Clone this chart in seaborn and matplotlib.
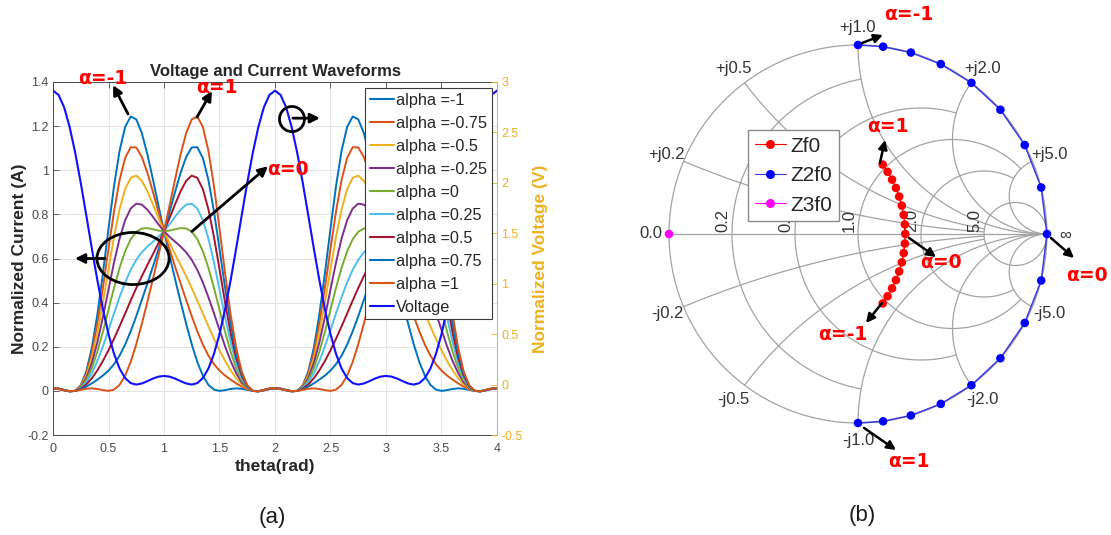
import numpy as np
import pandas as pd
import matplotlib
matplotlib.use("Agg")
import matplotlib.pyplot as plt
from matplotlib.lines import Line2D
from matplotlib.patches import Ellipse
import seaborn as sns

sns.set_theme(style="white")
plt.rcParams["font.family"] = ["Liberation Sans", "DejaVu Sans"]

# ---------------------------------------------------------------------------
# (a) waveforms, one period sampled every 0.05 rad-units (theta = 0 ... 1.95);
#     the waveform repeats with period 2 over the 0..4 window
# ---------------------------------------------------------------------------
theta_step = 0.05

i_m100 = [0.0120, 0.0110, 0.0045, -0.0026, 0.0000, 0.0256, 0.0879, 0.1952, 0.3473, 0.5339,
          0.7360, 0.9291, 1.0887, 1.1966, 1.2435, 1.2308, 1.1686, 1.0728, 0.9590, 0.8401,
          0.7240, 0.6129, 0.5062, 0.4028, 0.3034, 0.2112, 0.1313, 0.0690, 0.0273, 0.0058,
          0.0000, 0.0033, 0.0087, 0.0113, 0.0093, 0.0044, 0.0000, -0.0010, 0.0024, 0.0080]
i_m075 = [0.0120, 0.0106, 0.0042, -0.0024, 0.0000, 0.0230, 0.0781, 0.1722, 0.3050, 0.4676,
          0.6440, 0.8136, 0.9560, 1.0557, 1.1045, 1.1034, 1.0605, 0.9890, 0.9024, 0.8117,
          0.7240, 0.6413, 0.5628, 0.4866, 0.4115, 0.3386, 0.2703, 0.2099, 0.1600, 0.1212,
          0.0920, 0.0696, 0.0510, 0.0342, 0.0191, 0.0070, 0.0000, -0.0012, 0.0026, 0.0084]
i_m050 = [0.0120, 0.0102, 0.0039, -0.0022, 0.0000, 0.0203, 0.0683, 0.1492, 0.2627, 0.4013,
          0.5520, 0.6982, 0.8234, 0.9147, 0.9655, 0.9759, 0.9523, 0.9053, 0.8458, 0.7833,
          0.7240, 0.6697, 0.6194, 0.5703, 0.5197, 0.4661, 0.4093, 0.3509, 0.2926, 0.2366,
          0.1840, 0.1360, 0.0934, 0.0572, 0.0289, 0.0097, 0.0000, -0.0014, 0.0029, 0.0088]
i_m025 = [0.0120, 0.0099, 0.0037, -0.0020, 0.0000, 0.0177, 0.0584, 0.1262, 0.2203, 0.3349,
          0.4600, 0.5828, 0.6907, 0.7738, 0.8264, 0.8485, 0.8442, 0.8215, 0.7892, 0.7549,
          0.7240, 0.6981, 0.6760, 0.6541, 0.6278, 0.5935, 0.5484, 0.4918, 0.4253, 0.3520,
          0.2760, 0.2023, 0.1357, 0.0802, 0.0388, 0.0124, 0.0000, -0.0016, 0.0031, 0.0091]
i_000 = [0.0120, 0.0095, 0.0034, -0.0018, 0.0000, 0.0150, 0.0486, 0.1032, 0.1780, 0.2686,
         0.3680, 0.4674, 0.5580, 0.6328, 0.6874, 0.7210, 0.7360, 0.7378, 0.7326, 0.7265,
         0.7240, 0.7265, 0.7326, 0.7378, 0.7360, 0.7210, 0.6874, 0.6328, 0.5580, 0.4674,
         0.3680, 0.2686, 0.1780, 0.1032, 0.0486, 0.0150, 0.0000, -0.0018, 0.0034, 0.0095]
i_p025 = [0.0120, 0.0091, 0.0031, -0.0016, 0.0000, 0.0124, 0.0388, 0.0802, 0.1357, 0.2023,
          0.2760, 0.3520, 0.4253, 0.4918, 0.5484, 0.5935, 0.6278, 0.6541, 0.6760, 0.6981,
          0.7240, 0.7549, 0.7892, 0.8215, 0.8442, 0.8485, 0.8264, 0.7738, 0.6907, 0.5828,
          0.4600, 0.3349, 0.2203, 0.1262, 0.0584, 0.0177, 0.0000, -0.0020, 0.0037, 0.0099]
i_p050 = [0.0120, 0.0088, 0.0029, -0.0014, 0.0000, 0.0097, 0.0289, 0.0572, 0.0934, 0.1360,
          0.1840, 0.2366, 0.2926, 0.3509, 0.4093, 0.4661, 0.5197, 0.5703, 0.6194, 0.6697,
          0.7240, 0.7833, 0.8458, 0.9053, 0.9523, 0.9759, 0.9655, 0.9147, 0.8234, 0.6982,
          0.5520, 0.4013, 0.2627, 0.1492, 0.0683, 0.0203, 0.0000, -0.0022, 0.0039, 0.0102]
i_p075 = [0.0120, 0.0084, 0.0026, -0.0012, 0.0000, 0.0070, 0.0191, 0.0342, 0.0510, 0.0696,
          0.0920, 0.1212, 0.1600, 0.2099, 0.2703, 0.3386, 0.4115, 0.4866, 0.5628, 0.6413,
          0.7240, 0.8117, 0.9024, 0.9890, 1.0605, 1.1034, 1.1045, 1.0557, 0.9560, 0.8136,
          0.6440, 0.4676, 0.3050, 0.1722, 0.0781, 0.0230, 0.0000, -0.0024, 0.0042, 0.0106]
i_p100 = [0.0120, 0.0080, 0.0024, -0.0010, 0.0000, 0.0044, 0.0093, 0.0113, 0.0087, 0.0033,
          0.0000, 0.0058, 0.0273, 0.0690, 0.1313, 0.2112, 0.3034, 0.4028, 0.5062, 0.6129,
          0.7240, 0.8401, 0.9590, 1.0728, 1.1686, 1.2308, 1.2435, 1.1966, 1.0887, 0.9291,
          0.7360, 0.5339, 0.3473, 0.1952, 0.0879, 0.0256, 0.0000, -0.0026, 0.0045, 0.0110]
voltage = [2.9142, 2.8724, 2.7496, 2.5540, 2.2986, 2.0000, 1.6768, 1.3481, 1.0325, 0.7456,
           0.5000, 0.3032, 0.1585, 0.0641, 0.0142, 0.0000, 0.0104, 0.0338, 0.0594, 0.0788,
           0.0858, 0.0788, 0.0594, 0.0338, 0.0104, 0.0000, 0.0142, 0.0641, 0.1585, 0.3032,
           0.5000, 0.7456, 1.0325, 1.3481, 1.6768, 2.0000, 2.2986, 2.5540, 2.7496, 2.8724]

curve_labels = ["alpha =-1", "alpha =-0.75", "alpha =-0.5", "alpha =-0.25", "alpha =0",
                "alpha =0.25", "alpha =0.5", "alpha =0.75", "alpha =1"]
curve_values = [i_m100, i_m075, i_m050, i_m025, i_000, i_p025, i_p050, i_p075, i_p100]
curve_colors = ["#0072BD", "#D95319", "#EDB120", "#7E2F8E", "#77AC30",
                "#4DBEEE", "#A2142F", "#0072BD", "#D95319"]
voltage_color = "#1010FF"
right_color = "#EDB120"

x_ticks = [0, 0.5, 1, 1.5, 2, 2.5, 3, 3.5, 4]
x_tick_labels = ["0", "0.5", "1", "1.5", "2", "2.5", "3", "3.5", "4"]
i_ticks = [-0.2, 0, 0.2, 0.4, 0.6, 0.8, 1.0, 1.2, 1.4]
i_tick_labels = ["-0.2", "0", "0.2", "0.4", "0.6", "0.8", "1", "1.2", "1.4"]
v_ticks = [-0.5, 0, 0.5, 1, 1.5, 2, 2.5, 3]
v_tick_labels = ["-0.5", "0", "0.5", "1", "1.5", "2", "2.5", "3"]

# ---------------------------------------------------------------------------
# (b) impedances versus alpha (normalised), Smith chart
# ---------------------------------------------------------------------------
smith_alpha = [-1, -0.875, -0.75, -0.625, -0.5, -0.375, -0.25, -0.125, 0,
               0.125, 0.25, 0.375, 0.5, 0.625, 0.75, 0.875, 1]
zf0_r = [0.952, 1.058, 1.172, 1.289, 1.403, 1.508, 1.592, 1.647, 1.667,
         1.647, 1.592, 1.508, 1.403, 1.289, 1.172, 1.058, 0.952]
zf0_x = [-0.825, -0.803, -0.762, -0.698, -0.608, -0.490, -0.345, -0.178, 0.0,
         0.178, 0.345, 0.490, 0.608, 0.698, 0.762, 0.803, 0.825]
z2f0_r = [0.0] * 17
z2f0_x = [1.0, 1.143, 1.333, 1.6, 2.0, 2.667, 4.0, 8.0, np.inf,
          -8.0, -4.0, -2.667, -2.0, -1.6, -1.333, -1.143, -1.0]
z3f0_r = [0.0]
z3f0_x = [0.0]

resistance_ticks = [0.2, 0.5, 1.0, 2.0, 5.0]
reactance_ticks = [0.2, 0.5, 1.0, 2.0, 5.0]


def to_gamma(r, x):
    """Map normalised impedance r + jx onto the reflection-coefficient plane."""
    r = np.asarray(r, dtype=float)
    x = np.asarray(x, dtype=float)
    with np.errstate(all="ignore"):
        z = r + 1j * np.where(np.isinf(x), 0.0, x)
        g = (z - 1) / (z + 1)
    g = np.where(np.isinf(x), 1.0 + 0j, g)
    return g.real, g.imag


fig = plt.figure(figsize=(11.11, 5.35), dpi=100)

# ======================= panel (a) =======================
ax = fig.add_axes([53 / 1111, 100 / 535, 444 / 1111, 353 / 535])
ax2 = ax.twinx()

n_per = len(voltage)
theta = np.round(np.arange(2 * n_per + 1) * theta_step, 4)
rows = []
for lab, vals in zip(curve_labels, curve_values):
    full = list(vals) + list(vals) + [vals[0]]
    rows.append(pd.DataFrame({"theta": theta, "current": full, "curve": lab}))
df_i = pd.concat(rows, ignore_index=True)
v_full = list(voltage) + list(voltage) + [voltage[0]]
df_v = pd.DataFrame({"theta": theta, "voltage": v_full})

ax.grid(True, color="#e4e4e4", lw=0.8)
ax.set_axisbelow(True)
sns.lineplot(data=df_i, x="theta", y="current", hue="curve", hue_order=curve_labels,
             palette=dict(zip(curve_labels, curve_colors)), estimator=None, sort=False,
             lw=1.4, legend=False, ax=ax)
sns.lineplot(data=df_v, x="theta", y="voltage", color=voltage_color, estimator=None,
             sort=False, lw=1.5, legend=False, ax=ax2)

ax.set_xlim(0, 4)
ax.set_ylim(-0.2, 1.4)
ax2.set_ylim(-0.5, 3)
ax.set_xticks(x_ticks)
ax.set_xticklabels(x_tick_labels)
ax.set_yticks(i_ticks)
ax.set_yticklabels(i_tick_labels)
ax2.set_yticks(v_ticks)
ax2.set_yticklabels(v_tick_labels)

axis_grey = "#4a4a4a"
ax.tick_params(axis="both", direction="in", length=4, width=0.6, colors=axis_grey,
               labelsize=9, top=True, right=False, pad=3)
ax.tick_params(axis="x", pad=6)
ax2.tick_params(axis="y", direction="in", length=4, width=0.6, colors=right_color,
                labelsize=9, pad=3)
for s in ["left", "bottom", "top"]:
    ax.spines[s].set_color(axis_grey)
    ax.spines[s].set_linewidth(0.7)
ax.spines["right"].set_visible(False)
for s in ["left", "bottom", "top"]:
    ax2.spines[s].set_visible(False)
ax2.spines["right"].set_color(right_color)
ax2.spines["right"].set_linewidth(0.7)

ax.set_title("Voltage and Current Waveforms", fontsize=12, fontweight="bold",
             color="#262626", pad=4)
ax.set_xlabel("theta(rad)", fontsize=12.5, fontweight="bold", color="#262626")
ax.set_ylabel("Normalized Current (A)", fontsize=12.5, fontweight="bold", color="#262626")
ax2.set_ylabel("Normalized Voltage (V)", fontsize=12.5, fontweight="bold", color=right_color)
ax.xaxis.set_label_coords(0.5, -0.068)
ax.yaxis.set_label_coords(-0.058, 0.5)
ax2.yaxis.set_label_coords(1.08, 0.5)

handles = [Line2D([], [], color=c, lw=1.5) for c in curve_colors]
handles.append(Line2D([], [], color=voltage_color, lw=1.5))
leg = ax2.legend(handles, curve_labels + ["Voltage"], loc="upper right",
                 bbox_to_anchor=(0.989, 0.983), borderaxespad=0, fontsize=11.7,
                 fancybox=False, edgecolor="#3a3a3a", framealpha=1,
                 handlelength=1.45, handletextpad=0.15, labelspacing=0.49, borderpad=0.3)
leg.get_frame().set_linewidth(0.8)
leg.set_zorder(10)

# call-outs on the waveform panel (left-axis units)
arrow_kw = dict(arrowstyle="-|>", color="black", lw=2.0, mutation_scale=14,
                shrinkA=0, shrinkB=0)
red_kw = dict(color="#FF0000", fontsize=13.5, fontweight="bold", family="DejaVu Sans",
              ha="center", va="center", clip_on=False, zorder=12)
T = ax.transData
for start, end in [((0.676, 1.255), (0.541, 1.386)),
                   ((1.297, 1.241), (1.432, 1.359)),
                   ((1.252, 0.723), (1.937, 1.018)),
                   ((0.468, 0.600), (0.198, 0.600)),
                   ((2.162, 1.236), (2.405, 1.236))]:
    ax2.annotate("", xy=end, xytext=start, xycoords=T, textcoords=T,
                 arrowprops=arrow_kw, annotation_clip=False, zorder=11)
ax2.text(0.45, 1.418, "α=-1", transform=T, **red_kw)
ax2.text(1.477, 1.374, "α=1", transform=T, **red_kw)
ax2.text(2.117, 1.005, "α=0", transform=T, **red_kw)
ax2.add_patch(Ellipse((0.721, 0.600), 0.65, 0.236, transform=T, fill=False,
                      ec="black", lw=2.0, clip_on=False, zorder=11))
ax2.add_patch(Ellipse((2.153, 1.232), 0.225, 0.114, transform=T, fill=False,
                      ec="black", lw=2.0, clip_on=False, zorder=11))

fig.text(272 / 1111, 1 - 518 / 535, "(a)", fontsize=16, ha="center", va="center",
         color="#1a1a1a")

# ======================= panel (b) =======================
axs = fig.add_axes([600 / 1111, 0, 511 / 1111, 1])
px_per_unit, cx, cy = 189.0, 858.0, 234.0
axs.set_xlim((600 - cx) / px_per_unit, (1111 - cx) / px_per_unit)
axs.set_ylim((cy - 535) / px_per_unit, cy / px_per_unit)
axs.axis("off")

grid_kw = dict(color="#a3a3a3", lw=0.9, zorder=1)
t = np.linspace(0, 2 * np.pi, 721)
axs.plot(np.cos(t), np.sin(t), **grid_kw)
axs.plot([-1, 1], [0, 0], **grid_kw)

# fancy grid: constant-resistance circles stop at a reactance value,
# constant-reactance arcs stop at a resistance value
r_stop = {0.2: 1.0, 0.5: 2.0, 1.0: 5.0, 2.0: 5.0, 5.0: np.inf}
x_stop = {0.2: 5.0, 0.5: 5.0, 1.0: np.inf, 2.0: np.inf, 5.0: np.inf}
for r in resistance_ticks:
    u = np.linspace(-np.arctan(r_stop[r]), np.arctan(r_stop[r]), 1200)
    gx, gy = to_gamma(np.full_like(u, r), np.tan(u))
    axs.plot(gx, gy, **grid_kw)
for xv in reactance_ticks:
    u = np.linspace(0, np.arctan(x_stop[xv]), 1200)
    for sgn in (1, -1):
        gx, gy = to_gamma(np.tan(u), np.full_like(u, sgn * xv))
        axs.plot(gx, gy, **grid_kw)

lab_kw = dict(fontsize=12, color="#333333", ha="center", va="center", zorder=3)
rim = 1.095
for xv in reactance_ticks:
    for sgn, pre in ((1, "+j"), (-1, "-j")):
        gx, gy = to_gamma(0.0, sgn * xv)
        ang = np.arctan2(gy, gx)
        axs.text(rim * np.cos(ang), rim * np.sin(ang), f"{pre}{xv:.1f}", **lab_kw)
axs.text(-rim, 0.0, "0.0", **lab_kw)
axs.text(rim, -0.01, "∞", **lab_kw)
for r in resistance_ticks:
    g = (r - 1) / (r + 1)
    axs.text(g - 0.008, 0.008, f"{r:.1f}", rotation=90, ha="right", va="bottom",
             fontsize=12, color="#333333", zorder=3)

g1x, g1y = to_gamma(zf0_r, zf0_x)
g2x, g2y = to_gamma(z2f0_r, z2f0_x)
g3x, g3y = to_gamma(z3f0_r, z3f0_x)
sns.lineplot(x=g2x, y=g2y, sort=False, estimator=None, color="#3a3ae0", lw=1.1,
             ax=axs, zorder=4)
sns.scatterplot(x=g2x, y=g2y, color="#0000FF", s=38, edgecolor="none", ax=axs, zorder=5)
sns.lineplot(x=g1x, y=g1y, sort=False, estimator=None, color="#FF0000", lw=1.0,
             ax=axs, zorder=4)
sns.scatterplot(x=g1x, y=g1y, color="#FF0000", s=38, edgecolor="none", ax=axs, zorder=5)
sns.scatterplot(x=g3x, y=g3y, color="#FF00FF", s=38, edgecolor="none", ax=axs, zorder=5)
axs.set_xlim((600 - cx) / px_per_unit, (1111 - cx) / px_per_unit)
axs.set_ylim((cy - 535) / px_per_unit, cy / px_per_unit)

s_handles = [Line2D([], [], color="#FF0000", lw=0.8, marker="o", ms=6.5, mec="none"),
             Line2D([], [], color="#3a3ae0", lw=0.8, marker="o", ms=6.5, mfc="#0000FF", mec="none"),
             Line2D([], [], color="#FF00FF", lw=0.8, marker="o", ms=6.5, mec="none")]
sleg = axs.legend(s_handles, ["Zf0", "Z2f0", "Z3f0"], loc="upper left",
                  bbox_to_anchor=(-0.582, 0.550), bbox_transform=axs.transData,
                  borderaxespad=0, fontsize=15, fancybox=False, edgecolor="#8a8a8a",
                  framealpha=1, handlelength=1.5, handletextpad=0.2,
                  labelspacing=0.5, borderpad=0.32)
sleg.get_frame().set_linewidth(1.0)
sleg.set_zorder(8)

for start, end in [((0.02, 1.01), (0.132, 1.053)),
                   ((0.116, 0.376), (0.143, 0.497)),
                   ((0.270, -0.021), (0.413, -0.122)),
                   ((0.127, -0.365), (0.042, -0.471)),
                   ((1.021, -0.021), (1.143, -0.127)),
                   ((0.032, -1.026), (0.201, -1.143))]:
    axs.annotate("", xy=end, xytext=start, arrowprops=dict(arrow_kw, lw=1.8, mutation_scale=13),
                 annotation_clip=False, zorder=9)
axs.text(0.270, 1.159, "α=-1", **red_kw)
axs.text(0.159, 0.571, "α=1", **red_kw)
axs.text(0.439, -0.153, "α=0", **red_kw)
axs.text(-0.079, -0.534, "α=-1", **red_kw)
axs.text(1.212, -0.217, "α=0", **red_kw)
axs.text(0.270, -1.206, "α=1", **red_kw)

fig.text(862 / 1111, 1 - 516 / 535, "(b)", fontsize=16, ha="center", va="center",
         color="#1a1a1a")

fig.savefig("out.png", dpi=100)
